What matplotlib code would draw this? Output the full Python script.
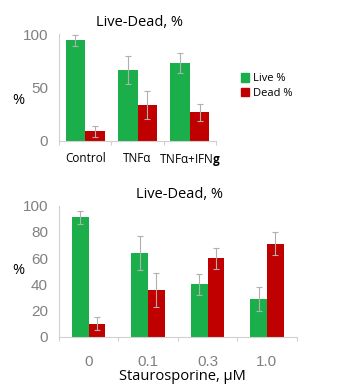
import matplotlib.pyplot as plt
import numpy as np
from matplotlib.patches import Patch

plt.rcParams["font.family"] = ["Open Sans", "DejaVu Sans"]
plt.rcParams["mathtext.fontset"] = "custom"
plt.rcParams["mathtext.rm"] = "Open Sans"
plt.rcParams["mathtext.bf"] = "Open Sans:bold"

GREEN = "#1aaf4b"
RED = "#c00000"
GRAY = "#808080"
ERR = "#b0b0b0"

# top panel: cytokine treatments
top_groups = ["Control", "TNFα", "TNFα+IFN$\\mathbf{g}$"]
top_live = [94, 66, 73]
top_live_err = [5, 13, 9]
top_dead = [9, 34, 27]
top_dead_err = [5, 13, 8]

# bottom panel: staurosporine dose
bot_groups = ["0", "0.1", "0.3", "1.0"]
bot_live = [91, 64, 40, 29]
bot_live_err = [5, 13, 8, 9]
bot_dead = [10, 36, 60, 71]
bot_dead_err = [5, 13, 8, 9]

W, H = 353, 391
fig = plt.figure(figsize=(W / 100, H / 100), dpi=100)


def px_axes(left, top, right, bottom):
    return fig.add_axes([left / W, 1 - bottom / H, (right - left) / W, (bottom - top) / H])


def draw_panel(ax, groups, live, live_err, dead, dead_err, width, yticks, xcolor, xpad, xsize):
    x = np.arange(len(groups))
    ekw = dict(ecolor=ERR, elinewidth=0.8, capsize=2, capthick=0.8)
    ax.bar(x - width / 2, live, width, color=GREEN, yerr=live_err, error_kw=ekw, zorder=2)
    ax.bar(x + width / 2, dead, width, color=RED, yerr=dead_err, error_kw=ekw, zorder=2)
    ax.set_xlim(-0.5, len(groups) - 0.5)
    ax.set_ylim(0, 100)
    ax.set_yticks(yticks)
    ax.set_xticks(x)
    ax.set_xticklabels(groups)
    ax.set_xticks(np.arange(len(groups) + 1) - 0.5, minor=True)
    ax.tick_params(axis="x", which="major", length=0, pad=xpad, labelsize=xsize, colors=xcolor)
    ax.tick_params(axis="x", which="minor", length=3, color="#d0d0d0", width=0.8)
    ax.tick_params(axis="y", length=0, pad=8, labelcolor=GRAY)
    for lab in ax.get_yticklabels():
        lab.set_family("Liberation Sans")
        lab.set_fontsize(11)
    for side in ["top", "right"]:
        ax.spines[side].set_visible(False)
    for side in ["left", "bottom"]:
        ax.spines[side].set_color("#d0d0d0")
        ax.spines[side].set_linewidth(0.8)


ax1 = px_axes(59, 34, 216, 141)
draw_panel(ax1, top_groups, top_live, top_live_err, top_dead, top_dead_err,
           0.37, [0, 50, 100], "black", 8, 8.5)
fig.text(140 / W, 1 - 23 / H, "Live-Dead, %", ha="center", va="center", fontsize=10.5)
fig.text(18 / W, 1 - 100 / H, "%", ha="center", va="center", fontsize=10.5)
fig.legend(handles=[Patch(color=GREEN, label="Live %"), Patch(color=RED, label="Dead %")],
           loc="center left", bbox_to_anchor=(241 / W, 1 - 86 / H), frameon=False,
           fontsize=8, handlelength=0.75, handleheight=0.75, handletextpad=0.35,
           labelspacing=0.3, borderpad=0, borderaxespad=0)

ax2 = px_axes(59, 205.7, 296.6, 336.7)
draw_panel(ax2, bot_groups, bot_live, bot_live_err, bot_dead, bot_dead_err,
           0.28, [0, 20, 40, 60, 80, 100], GRAY, 13, 11)
for lab in ax2.get_xticklabels():
    lab.set_family("Liberation Sans")
fig.text(180 / W, 1 - 195 / H, "Live-Dead, %", ha="center", va="center", fontsize=10.5)
fig.text(18 / W, 1 - 270 / H, "%", ha="center", va="center", fontsize=10.5)
fig.text(182 / W, 1 - 377 / H, "Staurosporine, µM", ha="center", va="center", fontsize=10.5)

fig.savefig("out.png", dpi=100)
